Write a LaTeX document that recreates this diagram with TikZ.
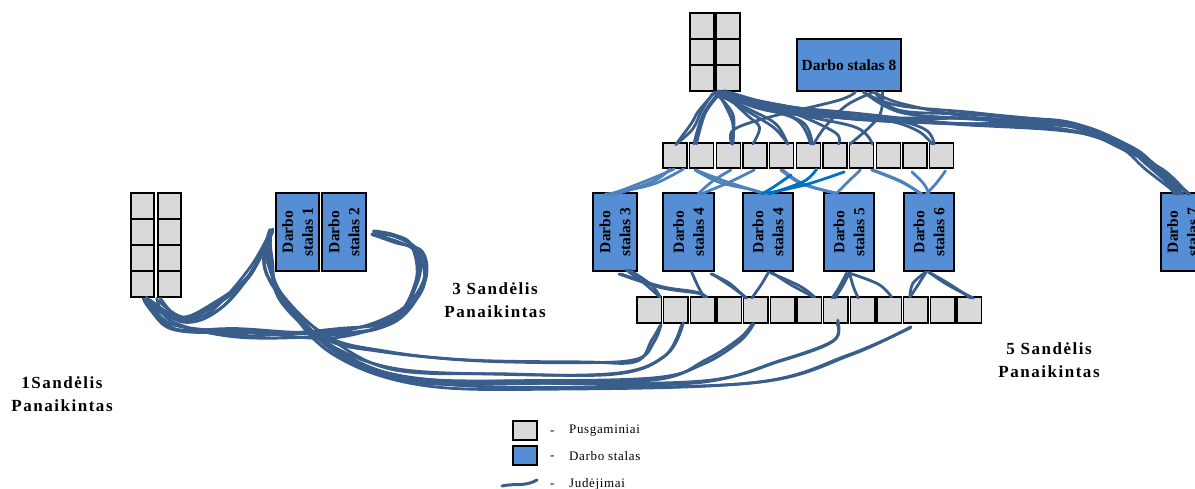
\documentclass[tikz,border=0pt]{standalone}
\usepackage{fontspec}
\setmainfont{Liberation Serif}
\usetikzlibrary{calc}
\definecolor{cellgray}{RGB}{217,217,217}
\definecolor{wsblue}{RGB}{85,142,213}
\definecolor{pathdark}{RGB}{58,94,140}
\definecolor{pathlight}{RGB}{79,129,189}
\definecolor{pathbright}{RGB}{0,112,192}
% a bundle of hand-drawn strands through (jittered) way points
\newcommand\strands[3]{\foreach \k in {1,...,#2}{\draw[#1] plot[smooth,tension=.6] coordinates {#3};}}
\newcommand\ja{(2.2*rand)}
\newcommand\jb{(5*rand)}
\begin{document}
\begin{tikzpicture}[x=1pt,y=-1pt,
  cell/.style={draw=black,line width=1.5pt,fill=cellgray,inner sep=0pt,outer sep=0pt,anchor=north west},
  ws/.style={draw=black,line width=1.5pt,fill=wsblue,inner sep=0pt,outer sep=0pt,align=center,
    font=\fontsize{15.5}{20}\selectfont\bfseries},
  wsv/.style={ws,rotate=90,minimum width=78pt},
  mv/.style={draw=pathdark,line width=2.8pt,line cap=round,line join=round},
  mvl/.style={mv,draw=pathlight},
  mvb/.style={mv,draw=pathbright},
  lab/.style={align=center,inner sep=0pt,
    font=\fontsize{17}{23}\selectfont\bfseries\addfontfeatures{LetterSpace=9}},
  legtxt/.style={inner sep=0pt,anchor=west,
    font=\fontsize{13}{15}\selectfont\addfontfeatures{LetterSpace=5}}]
\useasboundingbox (0,0) rectangle (1195,489);
\clip (0,0) rectangle (1195,489);
\pgfmathsetseed{11}

% ---------- storages of semi-finished parts ----------
\foreach \c/\x in {0/131,1/158}
  \foreach \r in {0,...,3}
    \node[cell,minimum width=23pt,minimum height=26pt] (ls\c\r) at (\x,{193+26*\r}) {};
\foreach \c/\x in {0/690,1/716}
  \foreach \r in {0,...,2}
    \node[cell,minimum width=24pt,minimum height=26pt] (ts\c\r) at (\x,{13+26*\r}) {};
\foreach \i in {0,...,10}
  \node[cell,minimum width=24pt,minimum height=25pt] (tr\i) at ({663+26.67*\i},143) {};
\foreach \i in {0,...,12}
  \node[cell,minimum width=24.5pt,minimum height=26pt] (br\i) at ({637+26.67*\i},297) {};

% ---------- work tables ----------
\node[wsv,minimum height=43pt] (ds1) at (297.5,232) {Darbo\\stalas 1};
\node[wsv,minimum height=44pt] (ds2) at (344,232) {Darbo\\stalas 2};
\node[wsv,minimum height=44pt] (ds3) at (615,232) {Darbo\\stalas 3};
\node[wsv,minimum height=51pt] (ds4) at (688.5,232) {Darbo\\stalas 4};
\node[wsv,minimum height=50pt] (ds4b) at (768,232) {Darbo\\stalas 4};
\node[wsv,minimum height=50pt] (ds5) at (849,232) {Darbo\\stalas 5};
\node[wsv,minimum height=50pt] (ds6) at (929,232) {Darbo\\stalas 6};
\node[wsv,minimum height=43pt] (ds7) at (1182.5,232) {Darbo\\stalas 7};
\node[ws,minimum width=104pt,minimum height=52pt] (ds8) at (849,65) {Darbo stalas 8};

% ---------- removed storages ----------
\node[lab] (sd1) at (62,394) {1Sandėlis\\Panaikintas};
\node[lab] (sd3) at (495,300) {3 Sandėlis\\Panaikintas};
\node[lab] (sd5) at (1049,360) {5 Sandėlis\\Panaikintas};

% ---------- movements, left part ----------
% storage -> table 1
\strands{mv}{6}{({152+9*rand},{299+2*rand}) ({180+\jb},{318+\jb}) ({215+\jb},{308+\jb}) ({248+\jb},{272+\jb}) ({272+\ja},{231+\ja})}
% storage -> table 2, round the loop
\strands{mv}{6}{({150+7*rand},{300+3*rand}) ({172+\jb},{326+\jb}) ({240+\jb},{333+\jb}) ({335+\jb},{333+\jb}) ({395+\jb},{318+\jb}) ({420+\jb},{285+\jb}) ({418+\jb},{252+\jb}) ({398+\jb},{238+\jb}) ({374+\ja},{233+\ja})}
% table 1 -> lower row of parts
\strands{mv}{2}{({271+\ja},{232+\ja}) ({268+\jb},{262+\jb}) ({282+\jb},{296+\jb}) ({322+\jb},{336+\jb}) ({380+\jb},{355+\jb}) ({470+\jb},{362+\ja}) ({580+\jb},{364+\ja}) ({635+\ja},{360+\ja}) ({652+\ja},{340+\ja}) ({659+\ja},{324+\ja})}
\strands{mv}{2}{({271+\ja},{232+\ja}) ({268+\jb},{262+\jb}) ({282+\jb},{296+\jb}) ({322+\jb},{338+\jb}) ({390+\jb},{366+\jb}) ({500+\jb},{374+\ja}) ({620+\jb},{375+\ja}) ({665+\ja},{356+\ja}) ({682+\ja},{324+\ja})}
\strands{mv}{2}{({271+\ja},{232+\ja}) ({268+\jb},{262+\jb}) ({284+\jb},{298+\jb}) ({326+\jb},{342+\jb}) ({400+\jb},{375+\jb}) ({520+\jb},{381+\ja}) ({650+\jb},{378+\ja}) ({705+\ja},{362+\ja}) ({738+\ja},{340+\ja}) ({752+\ja},{322+\ja})}
\strands{mv}{2}{({271+\ja},{232+\ja}) ({268+\jb},{262+\jb}) ({286+\jb},{300+\jb}) ({330+\jb},{348+\jb}) ({410+\jb},{380+\jb}) ({540+\jb},{385+\ja}) ({700+\jb},{383+\ja}) ({780+\ja},{362+\ja}) ({835+\ja},{340+\ja}) ({838+\ja},{322+\ja})}
\strands{mv}{2}{({271+\ja},{232+\ja}) ({268+\jb},{262+\jb}) ({288+\jb},{302+\jb}) ({336+\jb},{355+\jb}) ({420+\jb},{384+\jb}) ({560+\jb},{388+\ja}) ({760+\jb},{382+\ja}) ({850+\ja},{356+\ja}) ({910+\ja},{328+\ja})}

% ---------- movements, upper storage and table 8 ----------
\strands{mv}{2}{({712+\jb},{92+\ja}) ({700+\jb},{110+\jb}) ({688+\jb},{128+\jb}) ({676+\ja},{144+\ja})}
\strands{mv}{2}{({722+\jb},92) ({705+\jb},{115+\jb}) ({695+\ja},144)}
\strands{mv}{2}{({718+\jb},92) ({735+\jb},{118+\jb}) ({732+\ja},144)}
\strands{mv}{1}{({726+\jb},92) ({745+\jb},{112+\jb}) ({760+\jb},{130+\jb}) ({754+\ja},144)}
\strands{mv}{2}{({715+\jb},93) ({750+\jb},{108+\jb}) ({778+\jb},{125+\jb}) ({787+\ja},144)}
\strands{mv}{2}{({720+\jb},93) ({765+\jb},{108+\jb}) ({800+\jb},{125+\jb}) ({812+\ja},144)}
\strands{mv}{1}{({725+\jb},92) ({790+\jb},{110+\jb}) ({830+\jb},{128+\jb}) ({840+\ja},144)}
\strands{mv}{1}{({720+\jb},92) ({800+\jb},{112+\jb}) ({860+\jb},{128+\jb}) ({872+\ja},144)}
\strands{mv}{2}{({718+\jb},92) ({800+\jb},{110+\jb}) ({880+\jb},{122+\jb}) ({920+\jb},{130+\jb}) ({934+\ja},144)}
\strands{mv}{1}{({870+\jb},92) ({850+\jb},{110+\jb}) ({820+\jb},{128+\jb}) ({812+\ja},144)}
\strands{mv}{1}{({860+\jb},92) ({835+\jb},{105+\jb}) ({770+\jb},{118+\jb}) ({735+\jb},{130+\jb}) ({730+\ja},144)}
\strands{mv}{1}{({885+\jb},92) ({875+\jb},{115+\jb}) ({850+\ja},144)}
% long runs to table 7
\strands{mv}{6}{({720+\jb},{92+\ja}) ({770+\jb},{106+\jb}) ({860+\jb},{116+\jb}) ({960+\jb},{122+\jb}) ({1060+\jb},{127+\jb}) ({1115+\jb},{142+\jb}) ({1150+\jb},{165+\jb}) ({1178+6*rand},194)}
\strands{mv}{4}{({868+10*rand},92) ({900+\jb},{108+\jb}) ({980+\jb},{118+\jb}) ({1070+\jb},{126+\jb}) ({1130+\jb},{148+\jb}) ({1165+\jb},{172+\jb}) ({1188+\ja},194)}

% ---------- movements, upper row -> tables ----------
\strands{mvl}{2}{({672+\ja},169) ({650+\jb},{180+\ja}) ({622+\jb},{191+\ja}) ({606+\ja},194)}
\strands{mvl}{1}{({684+\ja},169) ({660+\jb},{182+\ja}) ({630+\ja},190) ({615+\ja},194)}
\strands{mvl}{2}{({697+\ja},170) ({720+\jb},{183+\ja}) ({750+\jb},{188+\ja}) ({765+\ja},194)}
\strands{mvl}{1}{({730+\ja},170) ({715+\jb},{183+\ja}) ({697+\ja},194)}
\strands{mvl}{1}{({756+\ja},170) ({725+\jb},{184+\ja}) ({700+\ja},194)}
\strands{mvl}{2}{({782+\ja},170) ({805+\jb},{182+\ja}) ({835+\ja},193)}
\strands{mvl}{1}{({862+\ja},170) ({850+\jb},{182+\ja}) ({838+\ja},194)}
\strands{mvl}{2}{({872+\ja},170) ({900+\jb},{180+\ja}) ({920+\ja},194)}
\strands{mvl}{1}{({945+\ja},171) ({935+\jb},{182+\ja}) ({928+\ja},194)}
\strands{mvl}{1}{({912+\ja},172) ({925+\jb},{185+\ja}) ({930+\ja},194)}
\strands{mvb}{1}{({817+\ja},169) ({800+\jb},{182+\ja}) ({768+\ja},194)}
\strands{mvb}{1}{({842+\ja},172) ({805+\jb},{186+\ja}) ({770+\ja},193)}
\strands{mvb}{1}{({790+\ja},175) ({775+\jb},{186+\ja}) ({762+\ja},194)}

% ---------- movements, tables -> lower row ----------
\strands{mv}{2}{({628+\ja},270) ({648+\jb},{284+\ja}) ({660+\ja},297)}
\strands{mv}{2}{({620+\ja},274) ({660+\jb},{288+\ja}) ({700+\jb},{292+\ja}) ({706+\ja},297)}
\strands{mv}{1}{({690+\ja},272) ({700+\jb},{285+\ja}) ({706+\ja},297)}
\strands{mv}{2}{({712+\ja},274) ({730+\jb},{285+\ja}) ({745+\ja},298)}
\strands{mv}{1}{({768+\ja},272) ({758+\jb},{285+\ja}) ({752+\ja},298)}
\strands{mv}{2}{({772+\ja},273) ({795+\jb},{285+\ja}) ({815+\ja},297)}
\strands{mv}{2}{({848+\ja},273) ({838+\jb},{286+\ja}) ({833+\ja},298)}
\strands{mv}{1}{({850+\ja},273) ({855+\jb},{286+\ja}) ({857+\ja},298)}
\strands{mv}{1}{({850+\ja},273) ({875+\jb},{285+\ja}) ({890+\ja},297)}
\strands{mv}{2}{({928+\ja},272) ({915+\jb},{285+\ja}) ({908+\ja},297)}
\strands{mv}{2}{({930+\ja},272) ({950+\jb},{283+\ja}) ({972+\ja},298)}

% ---------- legend ----------
\node[cell,minimum width=24pt,minimum height=19pt] (lgc) at (513,421) {};
\node[cell,fill=wsblue,minimum width=24pt,minimum height=19pt] (lgw) at (513,446) {};
\coordinate (lga) at (502,486);
\coordinate (lgb) at (537,480);
\draw[mv,line width=3pt] (lga) .. controls (515,483) and (525,487) .. (lgb);
\node[legtxt] (lgd1) at (550,433) {-};
\node[legtxt] (lgd2) at (550,458) {-};
\node[legtxt] (lgd3) at (550,486) {-};
\node[legtxt] (lgt1) at (569,431) {Pusgaminiai};
\node[legtxt] (lgt2) at (569,456) {Darbo stalas};
\node[legtxt] (lgt3) at (569,484) {Judėjimai};
\end{tikzpicture}
\end{document}
